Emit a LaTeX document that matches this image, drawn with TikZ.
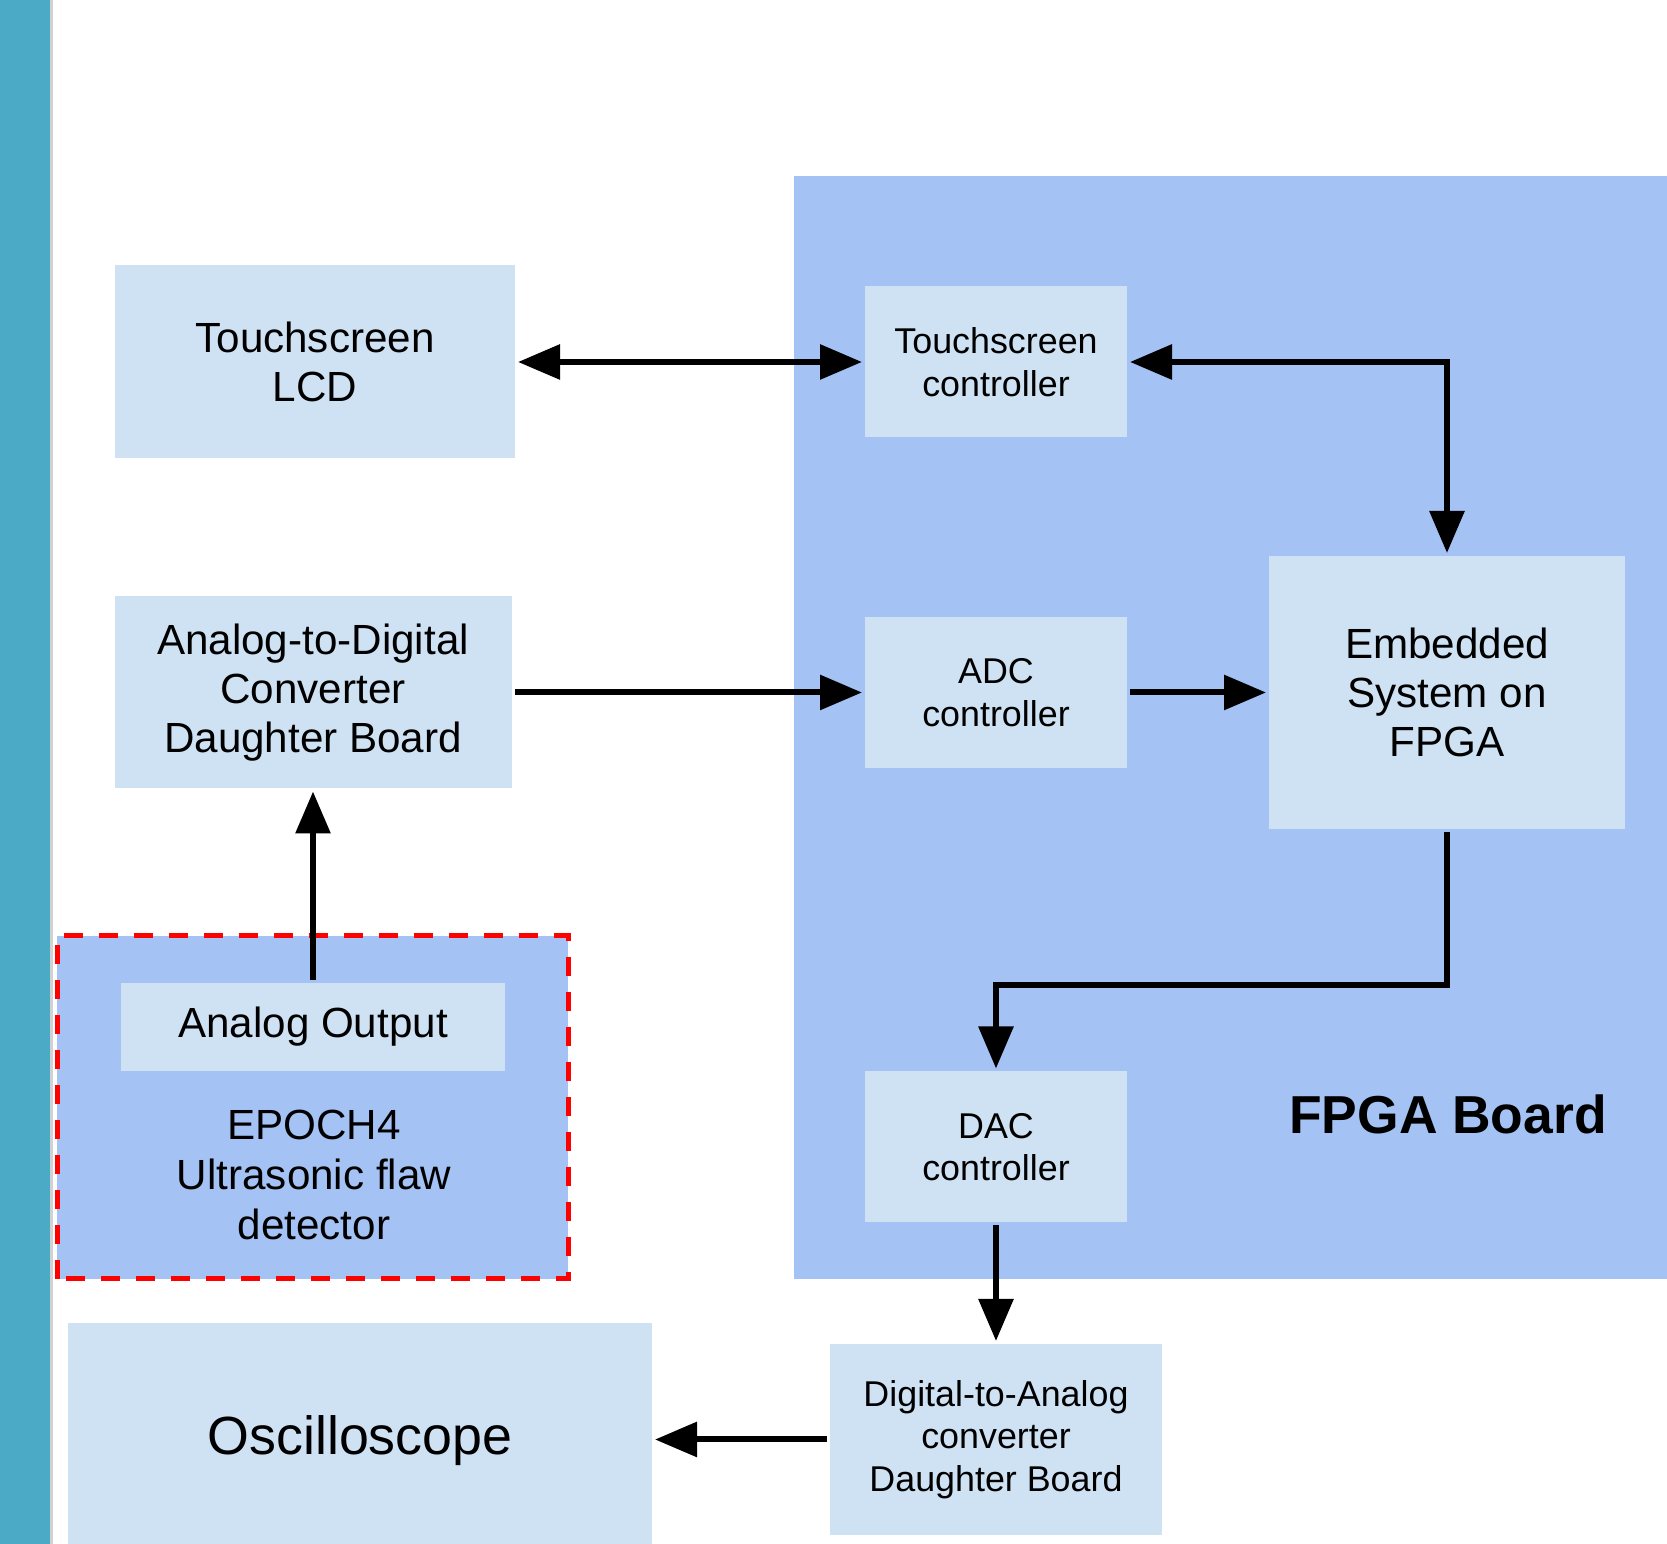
\documentclass[tikz,border=0pt]{standalone}
\usepackage{fontspec}
\setmainfont{Liberation Sans}
\usetikzlibrary{
    arrows.meta,            % Triangle arrow tips.
    positioning             % Relative positioning of nodes.
}
\definecolor{barteal}{HTML}{4BAAC6}
\definecolor{boardblue}{HTML}{A4C2F4}
\definecolor{boxblue}{HTML}{CFE2F3}

\begin{document}
\begin{tikzpicture}[>={Triangle[length=4.2mm,width=3.4mm]}, line width=0.6mm,
        block/.style={fill=boxblue, inner sep=0pt, align=center,
            font=\fontsize{12}{14}\selectfont},
        ctrl/.style={block, minimum width=2.62cm, minimum height=1.51cm,
            font=\fontsize{10.2}{12.1}\selectfont}]
                \useasboundingbox (0,0) rectangle (16.67,15.44);
                % side bar and FPGA board
                \fill[barteal] (0,0) rectangle (0.50,15.44);
                \fill[gray!35] (0.50,0) rectangle (0.53,15.44);
                \fill[boardblue] (7.94,2.65) rectangle (16.67,13.675);
                % flaw detector
                \fill[boardblue] (0.57,2.65) rectangle (5.68,6.08);
                \draw[red, line width=0.5mm, dash pattern=on 1.9mm off 1.6mm]
                    (0.57,2.65) rectangle (5.68,6.08);
                \node[block, minimum width=3.84cm, minimum height=0.88cm,
                    text depth=0.5ex]
                    (aout) at (3.13,5.17) {Analog Output};
                \node[align=center, font=\fontsize{12}{14.2}\selectfont]
                    (epoch) at (3.14,3.69) {EPOCH4\\Ultrasonic flaw\\detector};
                % outer boards
                \node[block, minimum width=4.00cm, minimum height=1.93cm]
                    (lcd) at (3.15,11.82) {Touchscreen\\LCD};
                \node[block, minimum width=3.97cm, minimum height=1.92cm]
                    (adcboard) at (3.13,8.515) {Analog-to-Digital\\Converter\\Daughter Board};
                \node[block, minimum width=3.32cm, minimum height=1.91cm,
                    font=\fontsize{10.2}{12.1}\selectfont]
                    (dacboard) at (9.96,1.045) {Digital-to-Analog\\converter\\Daughter Board};
                \node[block, minimum width=5.84cm, minimum height=2.36cm,
                    font=\fontsize{15.3}{18}\selectfont]
                    (scope) at (3.60,1.03) {Oscilloscope};
                % FPGA board contents
                \node[ctrl] (tsctrl) at (9.96,11.82) {Touchscreen\\controller};
                \node[ctrl] (adcctrl) at (9.96,8.515) {ADC\\controller};
                \node[ctrl] (dacctrl) at (9.96,3.97) {DAC\\controller};
                \node[block, minimum width=3.56cm, minimum height=2.73cm]
                    (soc) at (14.47,8.515) {Embedded\\System on\\FPGA};
                \node[font=\fontsize{15.2}{18}\selectfont\bfseries]
                    (fpga) at (14.48,4.30) {FPGA Board};
                \coordinate (bend) at (9.96,5.59);
                % connectors
                \draw[<->] (lcd) to (tsctrl);
                \draw[<->] (tsctrl.east) -| (soc.north);
                \draw[->] (adcboard) to (adcctrl);
                \draw[->] (adcctrl) to (soc);
                \draw[->] (aout) to (adcboard);
                \draw[->] (soc.south) |- (bend) to (dacctrl.north);
                \draw[->] (dacctrl) to (dacboard);
                \draw[->] (dacboard.west) to (scope.east |- dacboard.west);
            \end{tikzpicture}
\end{document}
